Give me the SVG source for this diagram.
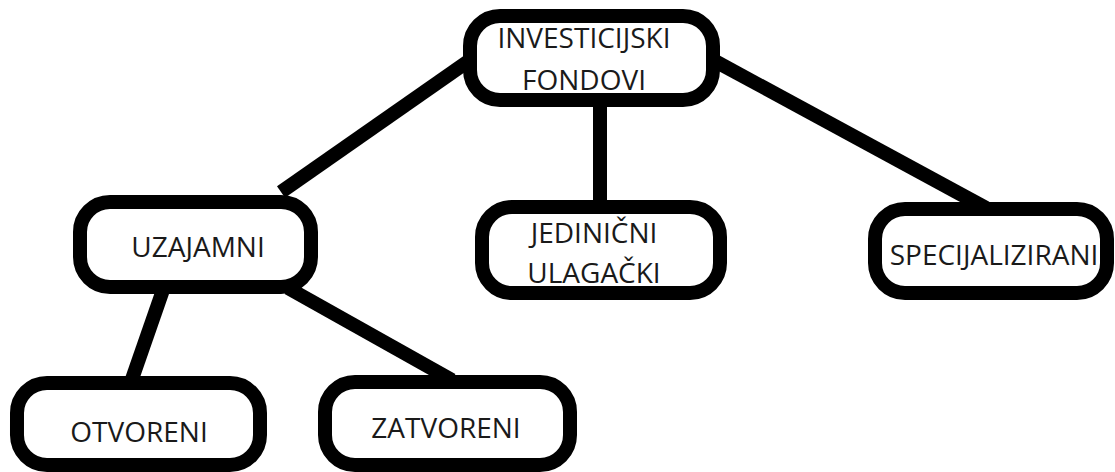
<svg xmlns="http://www.w3.org/2000/svg" width="1115" height="472" viewBox="0 0 1115 472">
<style>
.box{fill:#fff;stroke:#000;stroke-width:14}
.lbl{font-family:"Open Sans","Noto Sans",sans-serif;font-size:28px;fill:#1a1a1a;text-anchor:middle}
.con{stroke:#000;stroke-width:14;fill:none;stroke-linecap:butt}
</style>
<rect width="1115" height="472" fill="#fff"/>
<g id="connectors">
<line class="con" x1="470" y1="60" x2="281" y2="192"/>
<line class="con" x1="600" y1="100" x2="600" y2="207"/>
<line class="con" x1="713" y1="60" x2="986" y2="208"/>
<line class="con" x1="163" y1="290" x2="131" y2="382"/>
<line class="con" x1="288" y1="288" x2="452" y2="380"/>
</g>
<g id="root">
<rect class="box" x="470" y="16" width="243" height="84" rx="30"/>
<text class="lbl" x="584" y="48">INVESTICIJSKI</text>
<text class="lbl" x="584" y="90">FONDOVI</text>
</g>
<g id="uzajamni">
<rect class="box" x="80" y="202" width="231" height="85" rx="30"/>
<text class="lbl" x="198" y="257">UZAJAMNI</text>
</g>
<g id="jedinicni">
<rect class="box" x="482" y="207" width="238" height="86" rx="30"/>
<text class="lbl" x="594" y="243">JEDINIČNI</text>
<text class="lbl" x="594" y="283">ULAGAČKI</text>
</g>
<g id="specijalizirani">
<rect class="box" x="875" y="209" width="232" height="84" rx="30"/>
<text class="lbl" x="994" y="265">SPECIJALIZIRANI</text>
</g>
<g id="otvoreni">
<rect class="box" x="17" y="383" width="243" height="82" rx="30"/>
<text class="lbl" x="139" y="442">OTVORENI</text>
</g>
<g id="zatvoreni">
<rect class="box" x="325" y="382" width="245" height="83" rx="30"/>
<text class="lbl" x="446" y="438">ZATVORENI</text>
</g>
</svg>
